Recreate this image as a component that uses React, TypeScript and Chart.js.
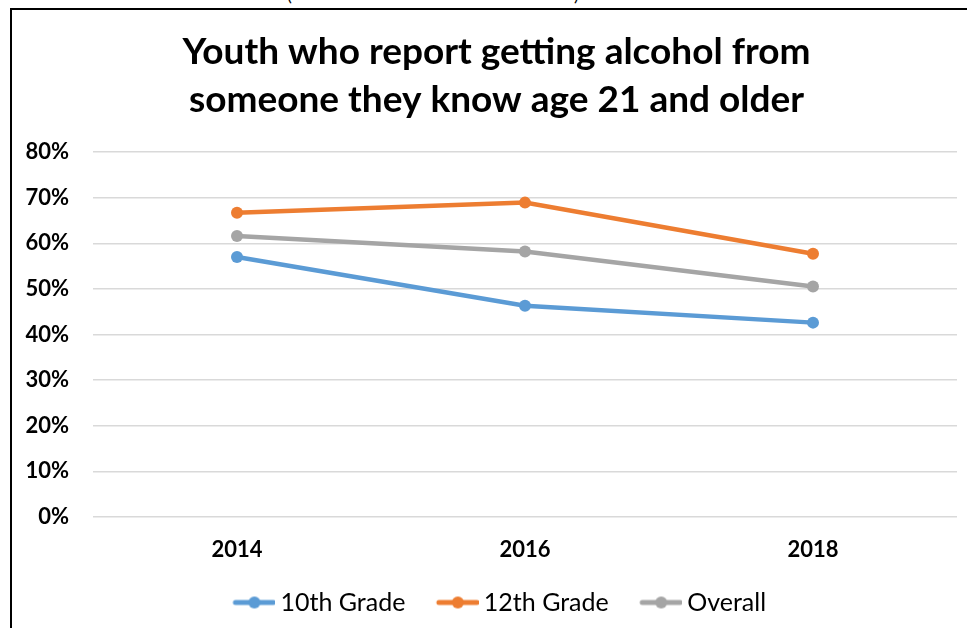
import React, { useEffect, useRef } from "react";
import { Chart, registerables } from "chart.js";

Chart.register(...registerables);

const years = ["2014", "2016", "2018"];
const grade10 = [57.0, 46.3, 42.6];
const grade12 = [66.7, 68.9, 57.7];
const overall = [61.6, 58.2, 50.5];
const seriesNames = ["10th Grade", "12th Grade", "Overall"];
const seriesColors = ["#5B9BD5", "#ED7D31", "#A5A5A5"];
const titleLines = ["Youth who report getting alcohol from", "someone they know age 21 and older"];

function legendIcon(color: string): HTMLCanvasElement {
  // 28px blank on the left, then a 43px line with a dot
  const c = document.createElement("canvas");
  c.width = 71;
  c.height = 14;
  const ctx = c.getContext("2d")!;
  ctx.strokeStyle = color;
  ctx.lineWidth = 5;
  ctx.lineCap = "round";
  ctx.beginPath();
  ctx.moveTo(31, 7);
  ctx.lineTo(69, 7);
  ctx.stroke();
  ctx.fillStyle = color;
  ctx.beginPath();
  ctx.arc(50, 7, 6, 0, Math.PI * 2);
  ctx.fill();
  return c;
}

const shiftBlocks = {
  id: "shiftBlocks",
  afterLayout(chart: any) {
    if (chart.legend) chart.legend.left += 21;
    if (chart.titleBlock) chart.titleBlock.left += 36;
  },
};

export default function App() {
  const ref = useRef<HTMLCanvasElement | null>(null);
  useEffect(() => {
    if (!ref.current) return;
    const values = [grade10, grade12, overall];
    const icons = seriesColors.map(legendIcon);
    const chart = new Chart(ref.current, {
      type: "line",
      plugins: [shiftBlocks],
      data: {
        labels: years,
        datasets: values.map((v, i) => ({
          label: seriesNames[i],
          data: v,
          borderColor: seriesColors[i],
          backgroundColor: seriesColors[i],
          pointBackgroundColor: seriesColors[i],
          pointBorderColor: seriesColors[i],
          borderWidth: 4.5,
          pointRadius: 6,
          pointBorderWidth: 0,
          tension: 0,
        })),
      },
      options: {
        animation: false,
        responsive: false,
        maintainAspectRatio: false,
        layout: { padding: { left: 0, right: 10, top: 0, bottom: 3 } },
        plugins: {
          title: {
            display: true,
            text: titleLines,
            color: "#000000",
            font: { family: "Lato", size: 37, weight: "bold", lineHeight: 1.297 },
            padding: { top: 28, bottom: 28 },
          },
          legend: {
            display: true,
            position: "bottom",
            labels: {
              usePointStyle: true,
              pointStyleWidth: 56,
              padding: 10,
              color: "#000000",
              font: { family: "Lato", size: 25 },
              generateLabels: (ch: any) =>
                ch.data.datasets.map((ds: any, i: number) => ({
                  text: ds.label,
                  fillStyle: seriesColors[i],
                  strokeStyle: seriesColors[i],
                  lineWidth: 0,
                  pointStyle: icons[i],
                  hidden: false,
                  datasetIndex: i,
                  fontColor: "#000000",
                })),
            },
          },
          tooltip: { enabled: false },
        },
        scales: {
          x: {
            type: "category",
            offset: true,
            grid: { display: false },
            border: { display: false },
            ticks: {
              color: "#000000",
              font: { family: "Lato", size: 22, weight: "bold" },
              padding: 12,
            },
            afterFit: (s: any) => {
              s.height = 63;
            },
          },
          y: {
            min: 0,
            max: 80,
            border: { display: false },
            grid: { color: "#D9D9D9", lineWidth: 1.4, drawTicks: false },
            ticks: {
              stepSize: 10,
              color: "#000000",
              font: { family: "Lato", size: 22, weight: "bold" },
              padding: 24,
              callback: (v: any) => v + "%",
            },
            afterFit: (s: any) => {
              s.width = 93;
            },
          },
        },
      },
    });
    return () => chart.destroy();
  }, []);

  return (
    <div
      style={{
        position: "fixed",
        left: 0,
        top: 0,
        width: 967,
        height: 628,
        background: "#ffffff",
        overflow: "hidden",
      }}
    >
      <div
        style={{
          position: "absolute",
          top: -16,
          left: 0,
          width: 967,
          height: 20,
          fontFamily: "Lato",
          fontSize: 18,
          lineHeight: "20px",
          color: "#000",
        }}
      >
        <span style={{ position: "absolute", left: 287 }}>(</span>
        <span style={{ position: "absolute", left: 574 }}>)</span>
      </div>
      <canvas
        ref={ref}
        width={967}
        height={628}
        style={{ position: "absolute", left: 0, top: 0, width: 967, height: 628 }}
      />
      <div
        style={{
          position: "absolute",
          left: 10,
          top: 8,
          width: 1000,
          height: 1000,
          borderLeft: "2px solid #000",
          borderTop: "2px solid #000",
          pointerEvents: "none",
        }}
      />
    </div>
  );
}
